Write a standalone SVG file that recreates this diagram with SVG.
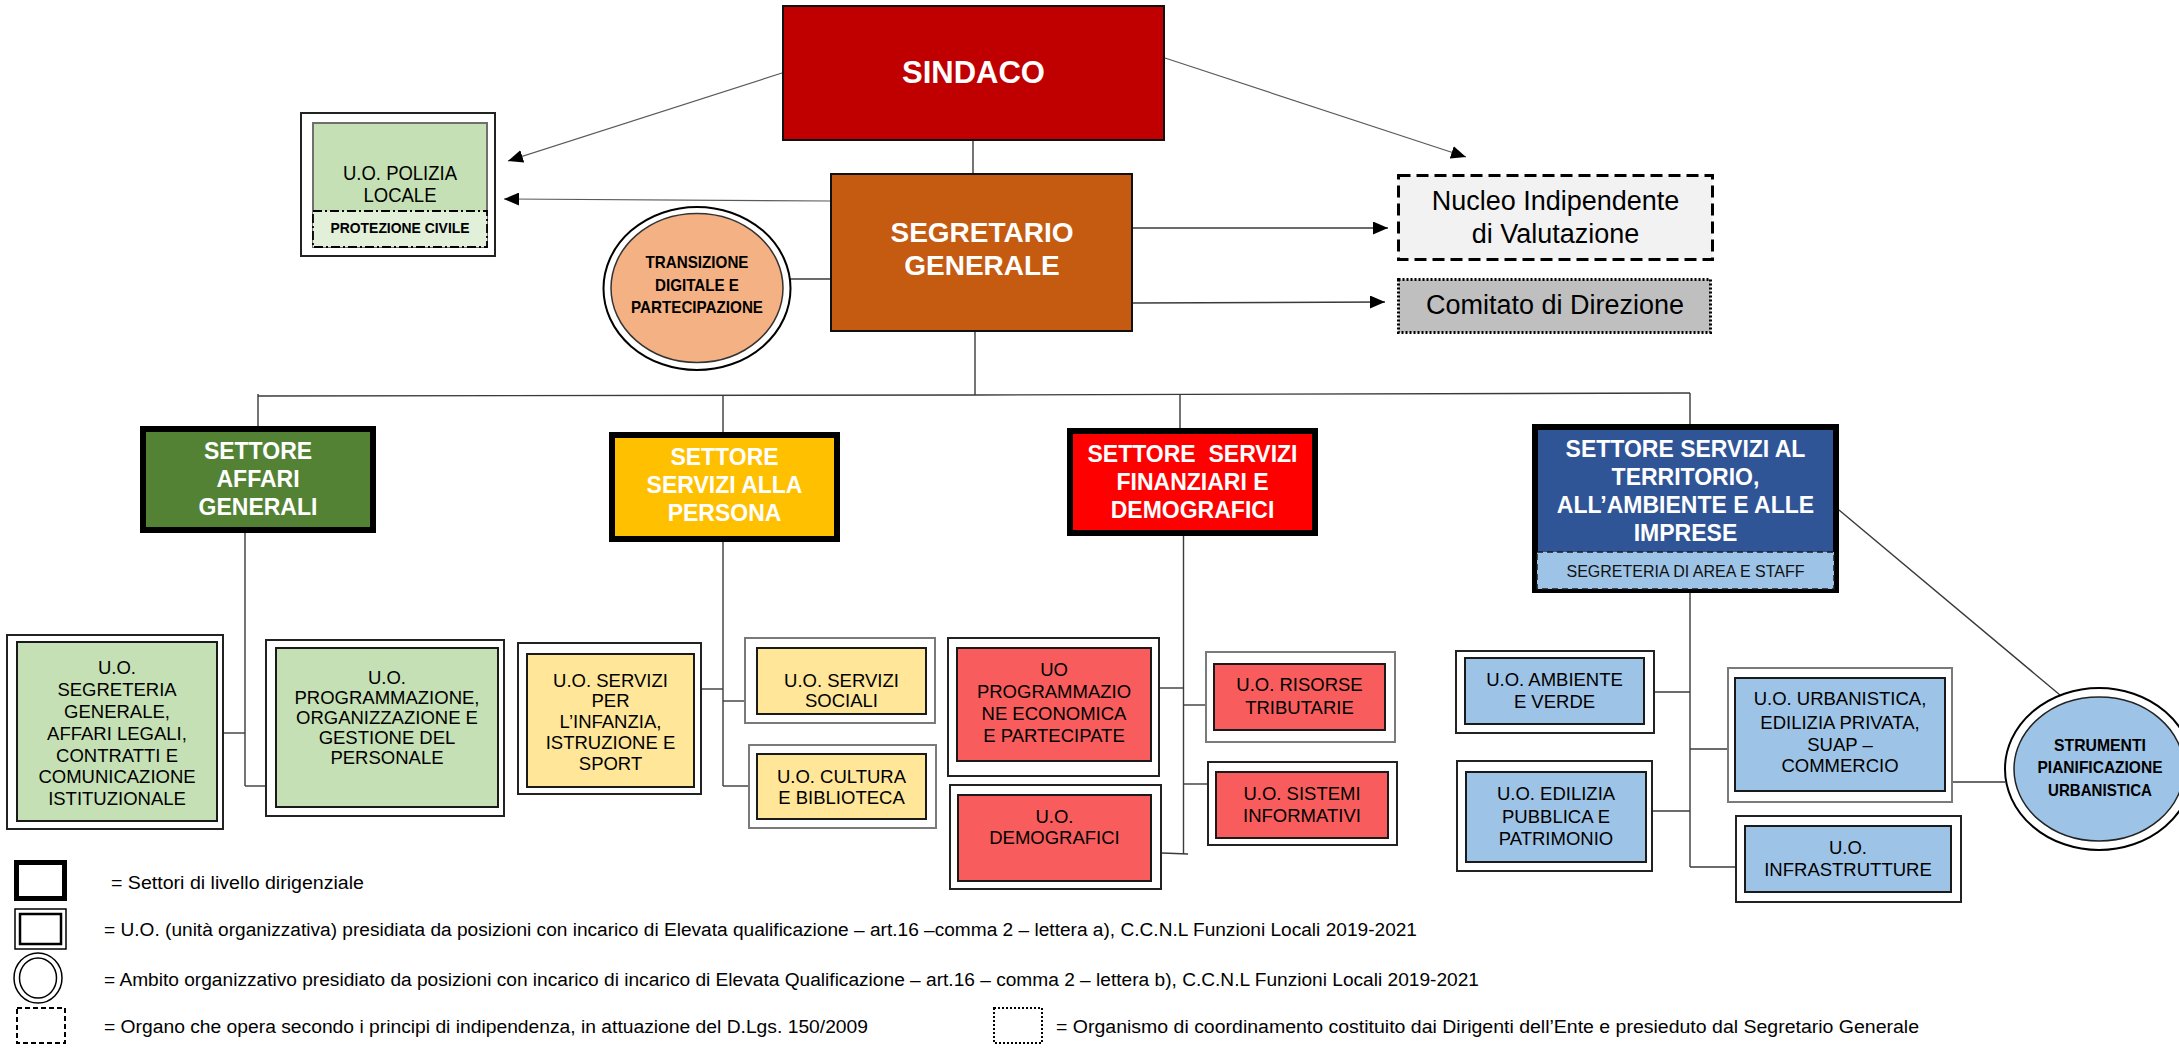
<svg xmlns="http://www.w3.org/2000/svg" width="2179" height="1048" viewBox="0 0 2179 1048">
<defs>
<style>
.bg{fill:#ffffff}
.ln{stroke:#3a3a3a;stroke-width:1.4;fill:none}
.lg{stroke:#5a5a5a;stroke-width:1.2;fill:none}
.oo{fill:#ffffff;stroke:#222;stroke-width:2}
.og{fill:#ffffff;stroke:#7a7a7a;stroke-width:2}
.ib{stroke:#1a1a1a;stroke-width:2}
.set{stroke:#000;stroke-width:6}
.green{fill:#C5E0B4}
.yel{fill:#FFE699}
.red{fill:#F95C5C}
.blue{fill:#9DC3E6}
.t{font-family:"Liberation Sans",Arial,sans-serif;font-size:18.5px;fill:#000;text-anchor:middle}
.ts{font-family:"Liberation Sans",Arial,sans-serif;font-size:23px;font-weight:bold;fill:#fff;text-anchor:middle}
.tc{font-family:"Liberation Sans",Arial,sans-serif;font-size:17px;font-weight:bold;fill:#000;text-anchor:middle}
.tl{font-family:"Liberation Sans",Arial,sans-serif;font-size:18px;fill:#000}
.tn{font-family:"Liberation Sans",Arial,sans-serif;font-size:27px;fill:#000;text-anchor:middle}
</style>
<marker id="ah" markerUnits="userSpaceOnUse" markerWidth="16" markerHeight="13" refX="15" refY="6.5" orient="auto">
<path d="M0,0 L15,6.5 L0,13 z" fill="#000"/>
</marker>
</defs>
<rect class="bg" x="0" y="0" width="2179" height="1048"/>

<g id="connectors">
<line class="lg" x1="782" y1="73" x2="508" y2="161" marker-end="url(#ah)"/>
<line class="lg" x1="830" y1="201" x2="504" y2="199" marker-end="url(#ah)"/>
<line class="lg" x1="1165" y1="58" x2="1466" y2="157" marker-end="url(#ah)"/>
<line class="ln" x1="1133" y1="228" x2="1388" y2="228" marker-end="url(#ah)"/>
<line class="ln" x1="1133" y1="303" x2="1385" y2="302" marker-end="url(#ah)"/>
<line class="ln" x1="973" y1="141" x2="973" y2="173"/>
<line class="ln" x1="790" y1="279" x2="830" y2="279"/>
<line class="ln" x1="975" y1="332" x2="975" y2="395"/>
<polyline class="ln" points="258,396 975,395 1690,393"/>
<line class="ln" x1="258" y1="394" x2="258" y2="426"/>
<line class="ln" x1="723" y1="395" x2="723" y2="432"/>
<line class="ln" x1="1180" y1="394" x2="1180" y2="428"/>
<line class="ln" x1="1690" y1="393" x2="1690" y2="424"/>
<line class="ln" x1="245" y1="533" x2="245" y2="786"/>
<line class="ln" x1="224" y1="733" x2="245" y2="733"/>
<line class="ln" x1="245" y1="786" x2="265" y2="786"/>
<line class="ln" x1="723" y1="542" x2="723" y2="786"/>
<line class="ln" x1="702" y1="689" x2="723" y2="689"/>
<line class="ln" x1="723" y1="701" x2="744" y2="701"/>
<line class="ln" x1="723" y1="786" x2="748" y2="786"/>
<line class="ln" x1="1183.5" y1="536" x2="1183.5" y2="854"/>
<line class="ln" x1="1160" y1="688" x2="1183.5" y2="688"/>
<line class="ln" x1="1183.5" y1="705" x2="1205" y2="705"/>
<line class="ln" x1="1183.5" y1="784" x2="1207" y2="784"/>
<line class="ln" x1="1162" y1="853" x2="1188" y2="854"/>
<line class="ln" x1="1690" y1="593" x2="1690" y2="867"/>
<line class="ln" x1="1655" y1="692" x2="1690" y2="692"/>
<line class="ln" x1="1690" y1="749" x2="1727" y2="749"/>
<line class="ln" x1="1653" y1="811" x2="1690" y2="811"/>
<line class="ln" x1="1690" y1="867" x2="1735" y2="867"/>
<line class="ln" x1="1839" y1="510" x2="2060" y2="695"/>
<line class="ln" x1="1953" y1="782" x2="2005" y2="782"/>
</g>

<g id="sindaco">
<rect x="783" y="6" width="381" height="134" fill="#C00000" stroke="#111" stroke-width="2"/>
<text x="973.5" y="83" font-family="Liberation Sans,Arial,sans-serif" font-size="31" font-weight="bold" fill="#fff" text-anchor="middle">SINDACO</text>
</g>

<g id="segretario">
<rect x="831" y="174" width="301" height="157" fill="#C55A11" stroke="#111" stroke-width="2"/>
<text x="982" y="242" font-family="Liberation Sans,Arial,sans-serif" font-size="28" font-weight="bold" fill="#fff" text-anchor="middle">SEGRETARIO</text>
<text x="982" y="275" font-family="Liberation Sans,Arial,sans-serif" font-size="28" font-weight="bold" fill="#fff" text-anchor="middle">GENERALE</text>
</g>

<g id="polizia">
<rect class="oo" x="301" y="113" width="194" height="143"/>
<rect class="green" x="313" y="123" width="174" height="124" stroke="#6f6f6f" stroke-width="2"/>
<rect x="313" y="211" width="174" height="36" fill="#E2F0D9" stroke="#000" stroke-width="1.8" stroke-dasharray="9 3 2 3"/>
<text class="t" x="400" y="180" style="font-size:20px" textLength="114" lengthAdjust="spacingAndGlyphs">U.O. POLIZIA</text>
<text class="t" x="400" y="202" style="font-size:20px" textLength="73" lengthAdjust="spacingAndGlyphs">LOCALE</text>
<text x="400" y="233" font-family="Liberation Sans,Arial,sans-serif" font-size="15" font-weight="bold" fill="#000" text-anchor="middle" textLength="139" lengthAdjust="spacingAndGlyphs">PROTEZIONE CIVILE</text>
</g>

<g id="transizione">
<ellipse cx="697" cy="288.5" rx="93.5" ry="81.5" fill="#fff" stroke="#000" stroke-width="2"/>
<ellipse cx="697" cy="288" rx="86" ry="74.5" fill="#F4B183" stroke="#333" stroke-width="1.5"/>
<text class="tc" x="697" y="268" textLength="103" lengthAdjust="spacingAndGlyphs">TRANSIZIONE</text>
<text class="tc" x="697" y="290.5" textLength="84" lengthAdjust="spacingAndGlyphs">DIGITALE E</text>
<text class="tc" x="697" y="313" textLength="132" lengthAdjust="spacingAndGlyphs">PARTECIPAZIONE</text>
</g>

<g id="nucleo">
<rect x="1398.5" y="175.5" width="314" height="84" fill="#F2F2F2" stroke="#000" stroke-width="3" stroke-dasharray="12 6"/>
<text class="tn" x="1555.5" y="210">Nucleo Indipendente</text>
<text class="tn" x="1555.5" y="243">di Valutazione</text>
</g>

<g id="comitato">
<rect x="1398.5" y="279.5" width="312" height="53" fill="#BFBFBF" stroke="#000" stroke-width="3" stroke-dasharray="2 2"/>
<text class="tn" x="1555" y="314">Comitato di Direzione</text>
</g>

<g id="settore-affari-generali">
<rect class="set" x="143" y="429" width="230" height="101" fill="#548235"/>
<text class="ts" x="258" y="459">SETTORE</text>
<text class="ts" x="258" y="487">AFFARI</text>
<text class="ts" x="258" y="515">GENERALI</text>
</g>

<g id="settore-servizi-persona">
<rect class="set" x="612" y="435" width="225" height="104" fill="#FFC000"/>
<text class="ts" x="724.5" y="465">SETTORE</text>
<text class="ts" x="724.5" y="493">SERVIZI ALLA</text>
<text class="ts" x="724.5" y="521">PERSONA</text>
</g>

<g id="settore-finanziari">
<rect class="set" x="1070" y="431" width="245" height="102" fill="#FF0000"/>
<text class="ts" x="1192.5" y="462" xml:space="preserve">SETTORE  SERVIZI</text>
<text class="ts" x="1192.5" y="490">FINANZIARI E</text>
<text class="ts" x="1192.5" y="518">DEMOGRAFICI</text>
</g>

<g id="settore-territorio">
<rect class="set" x="1535" y="427" width="301" height="163" fill="#2F5597"/>
<rect x="1537" y="552" width="297" height="37" fill="#9DC3E6" stroke="#1a1a1a" stroke-width="1.5" stroke-dasharray="6 4"/>
<text class="ts" x="1685.5" y="457">SETTORE SERVIZI AL</text>
<text class="ts" x="1685.5" y="485">TERRITORIO,</text>
<text class="ts" x="1685.5" y="513">ALL’AMBIENTE E ALLE</text>
<text class="ts" x="1685.5" y="541">IMPRESE</text>
<text x="1685.5" y="577" font-family="Liberation Sans,Arial,sans-serif" font-size="16" fill="#111" text-anchor="middle">SEGRETERIA DI AREA E STAFF</text>
</g>

<g id="uo-segreteria-generale">
<rect class="oo" x="7" y="635" width="216" height="194"/>
<rect class="green ib" x="17" y="642" width="200" height="179"/>
<text class="t" x="117" y="674">U.O.</text>
<text class="t" x="117" y="696">SEGRETERIA</text>
<text class="t" x="117" y="718">GENERALE,</text>
<text class="t" x="117" y="740">AFFARI LEGALI,</text>
<text class="t" x="117" y="762">CONTRATTI E</text>
<text class="t" x="117" y="783">COMUNICAZIONE</text>
<text class="t" x="117" y="805">ISTITUZIONALE</text>
</g>

<g id="uo-programmazione-personale">
<rect class="oo" x="266" y="640" width="238" height="176"/>
<rect class="green ib" x="276" y="648" width="222" height="159"/>
<text class="t" x="387" y="684">U.O.</text>
<text class="t" x="387" y="704">PROGRAMMAZIONE,</text>
<text class="t" x="387" y="724">ORGANIZZAZIONE E</text>
<text class="t" x="387" y="744">GESTIONE DEL</text>
<text class="t" x="387" y="764">PERSONALE</text>
</g>

<g id="uo-infanzia">
<rect class="oo" x="518" y="643" width="183" height="151" stroke="#444"/>
<rect class="yel ib" x="527" y="654" width="167" height="133"/>
<text class="t" x="610.5" y="687">U.O. SERVIZI</text>
<text class="t" x="610.5" y="707">PER</text>
<text class="t" x="610.5" y="728">L’INFANZIA,</text>
<text class="t" x="610.5" y="749">ISTRUZIONE E</text>
<text class="t" x="610.5" y="770">SPORT</text>
</g>

<g id="uo-servizi-sociali">
<rect class="og" x="745" y="638" width="190" height="85"/>
<rect class="yel ib" x="757" y="648" width="169" height="66"/>
<text class="t" x="841.5" y="687">U.O. SERVIZI</text>
<text class="t" x="841.5" y="707">SOCIALI</text>
</g>

<g id="uo-cultura">
<rect class="og" x="749" y="745" width="187" height="83"/>
<rect class="yel ib" x="757" y="754" width="169" height="65"/>
<text class="t" x="841.5" y="783">U.O. CULTURA</text>
<text class="t" x="841.5" y="804">E BIBLIOTECA</text>
</g>

<g id="uo-programmazione-economica">
<rect class="oo" x="948" y="638" width="211" height="138"/>
<rect class="red ib" x="957" y="648" width="194" height="113"/>
<text class="t" x="1054" y="675.5">UO</text>
<text class="t" x="1054" y="697.5">PROGRAMMAZIO</text>
<text class="t" x="1054" y="719.5">NE ECONOMICA</text>
<text class="t" x="1054" y="742">E PARTECIPATE</text>
</g>

<g id="uo-demografici">
<rect class="oo" x="950" y="785" width="211" height="104" stroke="#555"/>
<rect class="red ib" x="958" y="795" width="193" height="86"/>
<text class="t" x="1054.5" y="822.5">U.O.</text>
<text class="t" x="1054.5" y="844">DEMOGRAFICI</text>
</g>

<g id="uo-risorse-tributarie">
<rect class="og" x="1206" y="652" width="189" height="90"/>
<rect class="red ib" x="1214" y="664" width="171" height="66"/>
<text class="t" x="1299.5" y="691">U.O. RISORSE</text>
<text class="t" x="1299.5" y="714">TRIBUTARIE</text>
</g>

<g id="uo-sistemi-informativi">
<rect class="oo" x="1208" y="762" width="189" height="83" stroke="#444"/>
<rect class="red ib" x="1216" y="772" width="172" height="66"/>
<text class="t" x="1302" y="799.5">U.O. SISTEMI</text>
<text class="t" x="1302" y="821.5">INFORMATIVI</text>
</g>

<g id="uo-ambiente">
<rect class="oo" x="1456" y="651" width="198" height="82"/>
<rect class="blue ib" x="1465" y="658" width="179" height="66"/>
<text class="t" x="1554.5" y="685.5">U.O. AMBIENTE</text>
<text class="t" x="1554.5" y="707.5">E VERDE</text>
</g>

<g id="uo-edilizia-pubblica">
<rect class="oo" x="1457" y="761" width="195" height="110"/>
<rect class="blue ib" x="1466" y="772" width="180" height="90"/>
<text class="t" x="1556" y="799.5">U.O. EDILIZIA</text>
<text class="t" x="1556" y="822.5">PUBBLICA E</text>
<text class="t" x="1556" y="844.5">PATRIMONIO</text>
</g>

<g id="uo-urbanistica">
<rect class="og" x="1728" y="668" width="224" height="134"/>
<rect class="blue ib" x="1735" y="678" width="210" height="113"/>
<text class="t" x="1840" y="704.5">U.O. URBANISTICA,</text>
<text class="t" x="1840" y="728.5">EDILIZIA PRIVATA,</text>
<text class="t" x="1840" y="750.5">SUAP –</text>
<text class="t" x="1840" y="771.5">COMMERCIO</text>
</g>

<g id="uo-infrastrutture">
<rect class="oo" x="1736" y="816" width="225" height="86"/>
<rect class="blue ib" x="1745" y="826" width="206" height="66"/>
<text class="t" x="1848" y="853.5">U.O.</text>
<text class="t" x="1848" y="875.5">INFRASTRUTTURE</text>
</g>

<g id="strumenti">
<ellipse cx="2099" cy="769" rx="94" ry="81" fill="#fff" stroke="#000" stroke-width="2"/>
<ellipse cx="2099" cy="769" rx="85" ry="72" fill="#9DC3E6" stroke="#222" stroke-width="1.5"/>
<text class="tc" x="2100" y="750.5" textLength="92" lengthAdjust="spacingAndGlyphs">STRUMENTI</text>
<text class="tc" x="2100" y="772.5" textLength="125" lengthAdjust="spacingAndGlyphs">PIANIFICAZIONE</text>
<text class="tc" x="2100" y="795.5" textLength="104" lengthAdjust="spacingAndGlyphs">URBANISTICA</text>
</g>

<g id="legend">
<rect x="16.5" y="862.5" width="48" height="36" fill="#fff" stroke="#000" stroke-width="5"/>
<text class="tl" x="111" y="889" textLength="253" lengthAdjust="spacingAndGlyphs">= Settori di livello dirigenziale</text>
<rect x="15" y="909" width="51" height="40" fill="#fff" stroke="#000" stroke-width="1.5"/>
<rect x="20" y="914" width="41" height="30" fill="#fff" stroke="#000" stroke-width="2.5"/>
<text class="tl" x="104" y="936" textLength="1313" lengthAdjust="spacingAndGlyphs">= U.O. (unità organizzativa)  presidiata da posizioni con incarico  di Elevata qualificazione – art.16 –comma 2 – lettera a), C.C.N.L Funzioni Locali 2019-2021</text>
<ellipse cx="38" cy="978" rx="24" ry="25" fill="#fff" stroke="#000" stroke-width="1.5"/>
<ellipse cx="38" cy="978" rx="18.5" ry="20" fill="#fff" stroke="#000" stroke-width="1.5"/>
<text class="tl" x="104" y="986" textLength="1375" lengthAdjust="spacingAndGlyphs">= Ambito organizzativo presidiato da posizioni con incarico di incarico di Elevata Qualificazione – art.16 – comma 2 – lettera b), C.C.N.L Funzioni Locali 2019-2021</text>
<rect x="17" y="1008" width="48" height="35" fill="#fff" stroke="#000" stroke-width="2" stroke-dasharray="5 3"/>
<text class="tl" x="104" y="1033" textLength="764" lengthAdjust="spacingAndGlyphs">= Organo che opera secondo i principi di indipendenza, in attuazione del D.Lgs. 150/2009</text>
<rect x="994" y="1008" width="48" height="35" fill="#fff" stroke="#000" stroke-width="2" stroke-dasharray="2 2"/>
<text class="tl" x="1056" y="1033" textLength="863" lengthAdjust="spacingAndGlyphs">= Organismo di coordinamento costituito dai Dirigenti dell’Ente e presieduto dal Segretario Generale</text>
</g>
</svg>
